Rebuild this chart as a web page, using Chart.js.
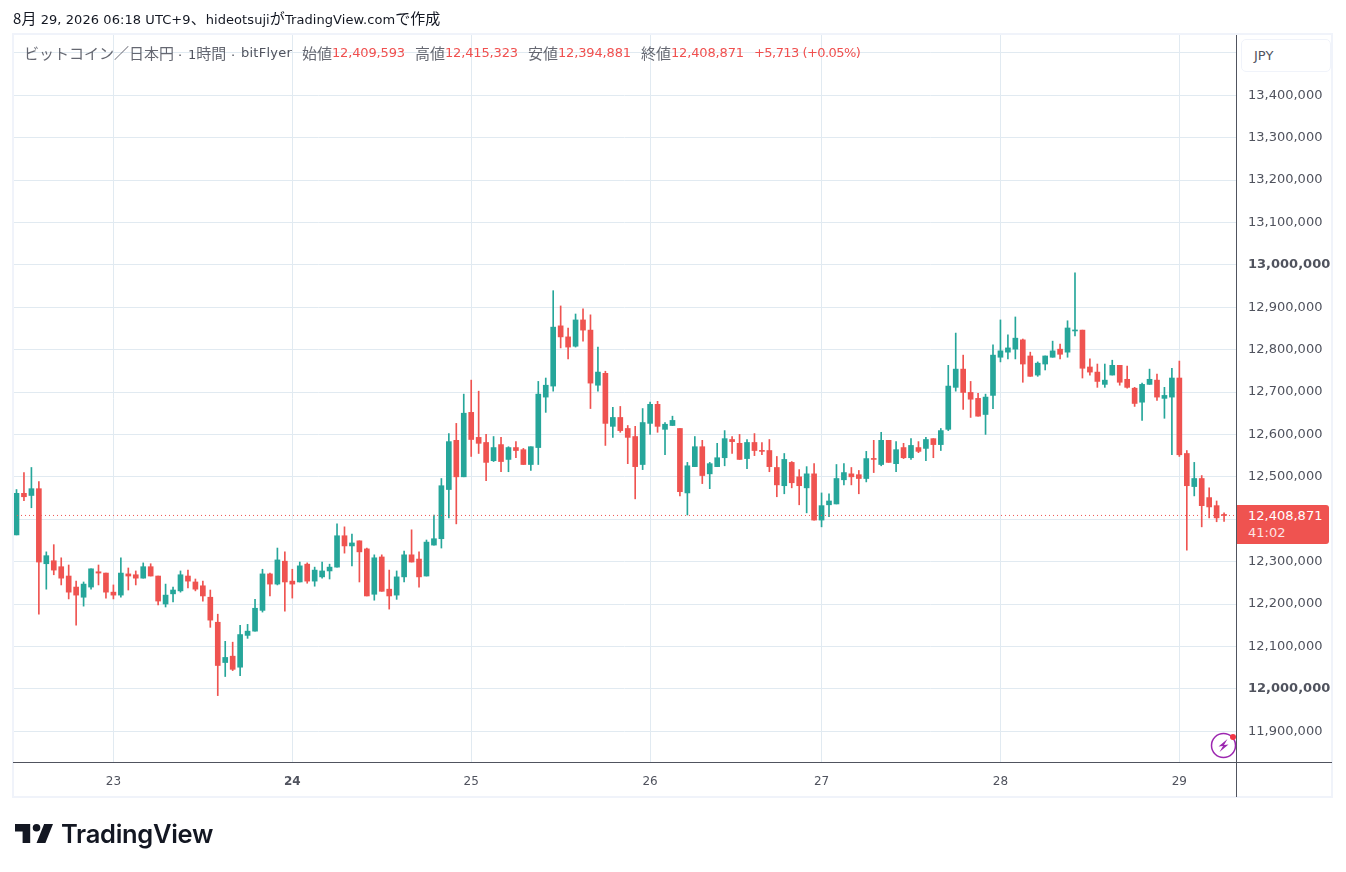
<!DOCTYPE html>
<html lang="ja"><head><meta charset="utf-8">
<script src="https://cdn.jsdelivr.net/npm/chart.js@4"></script>
<style>
html,body{margin:0;padding:0;background:#fff;overflow:hidden}
body{width:1346px;height:872px;position:relative;font-family:"DejaVu Sans","Noto Sans CJK JP",sans-serif}
canvas{position:absolute;left:0;top:0}
.t{position:absolute;white-space:nowrap;line-height:18px;font-size:13px}
.c{font-size:15px;font-family:"Noto Sans CJK JP",sans-serif}
.g{color:#50535e}.r{color:#f0504f;letter-spacing:-.15px}
.bx{position:absolute;background:#f0f3fa}
.ax{position:absolute;background:#50535e}
</style></head><body>
<canvas id="c" width="1346" height="872"></canvas>
<div class="bx" style="left:12px;top:33px;width:1321px;height:2px"></div>
<div class="bx" style="left:12px;top:33px;width:2px;height:765px"></div>
<div class="bx" style="left:1331px;top:33px;width:2px;height:765px"></div>
<div class="bx" style="left:12px;top:796px;width:1321px;height:2px"></div>
<div class="ax" style="left:13px;top:762px;width:1319px;height:1px"></div>
<div class="ax" style="left:1236px;top:35px;width:1px;height:762px"></div>
<div class="t" style="left:13px;top:9px;color:#131722;letter-spacing:.07px"><span class="c">8月</span> 29, 2026 06:18 UTC+9<span class="c">、</span>hideotsuji<span class="c">が</span>TradingView.com<span class="c">で作成</span></div>
<div class="t g c" style="left:24px;top:44px;opacity:.88">ビットコイン／日本円</div>
<div class="t g" style="left:178px;top:47px">·</div>
<div class="t g" style="left:188px;top:44px">1<span class="c" style="opacity:.88">時間</span></div>
<div class="t g" style="left:231px;top:47px">·</div>
<div class="t g" style="left:241px;top:44px;letter-spacing:.25px">bitFlyer</div>
<div class="t g c" style="left:302px;top:44px;opacity:.88">始値</div><div class="t r" style="left:332px;top:44px">12,409,593</div>
<div class="t g c" style="left:415px;top:44px;opacity:.88">高値</div><div class="t r" style="left:445px;top:44px">12,415,323</div>
<div class="t g c" style="left:528px;top:44px;opacity:.88">安値</div><div class="t r" style="left:558px;top:44px">12,394,881</div>
<div class="t g c" style="left:641px;top:44px;opacity:.88">終値</div><div class="t r" style="left:671px;top:44px">12,408,871</div>
<div class="t r" style="left:754px;top:44px;letter-spacing:-.55px">+5,713 (+0.05%)</div>
<div style="position:absolute;left:1241px;top:39px;width:88px;height:31px;border:1px solid #f0f3fa;border-radius:5px;background:#fff;color:#50535e;font-size:13px;line-height:31px;text-indent:12px">JPY</div>
<div style="position:absolute;left:1237px;top:505px;width:92px;height:39px;background:#ef5350;border-radius:0 3px 3px 0"></div>
<div class="t" style="left:1248px;top:506px;color:#fff;line-height:19px">12,408,871</div>
<div class="t" style="left:1248px;top:524px;color:#fde4e4;line-height:18px">41:02</div>
<svg style="position:absolute;left:1208px;top:730px" width="32" height="30" viewBox="0 0 32 30">
<circle cx="15.5" cy="15.5" r="12" fill="#fff" stroke="#9c27b0" stroke-width="1.5"/>
<path d="M19.5 9 10.5 16.5 15 16 11.5 22 20.5 14.5 16 15Z" fill="#9c27b0"/>
<circle cx="25" cy="7" r="3" fill="#f23645"/></svg>
<svg style="position:absolute;left:15px;top:824px" width="38" height="19" viewBox="0 6 30 15" preserveAspectRatio="none">
<path d="M12 6H0v6h6v9h6V6Zm12 15h-7l6-15h7l-6 15Zm-7-9a3 3 0 1 0 0-6 3 3 0 0 0 0 6Z" fill="#131722"/></svg>
<div style="position:absolute;left:61px;top:818px;font-family:Inter,sans-serif;font-weight:600;font-size:25.5px;line-height:32px;color:#131722;letter-spacing:-0.3px">TradingView</div>
<script>
// 1-hour BTC/JPY candles (thousand yen), 22 Aug 11:00 .. 29 Aug 06:00
const firstHourIndex = -13;
const opens = [12363,12461,12456,12472,12295,12302,12288,12266,12240,12216,12240,12276,12273,
12228,12221,12271,12269,12261,12288,12266,12200,12224,12231,12266,12252,12243,12216,12157,12062,12077,12051,12126,12136,12185,12271,12247,12301,12254,12252,12294,12254,12264,
12278,12287,12361,12337,12349,12330,12223,12311,12235,12221,12264,12316,12306,12266,12339,12354,12470,12586,12500,12652,12593,12581,12538,12576,12541,12569,12564,12529,12569,12688,
12714,12856,12830,12808,12870,12846,12716,12744,12619,12640,12614,12595,12529,12626,12671,12612,12621,12614,12462,12524,12571,12507,12524,12545,12588,12579,12543,12581,12562,12562,12522,
12479,12534,12500,12474,12507,12398,12434,12436,12493,12507,12505,12496,12543,12529,12586,12531,12569,12545,12569,12567,12590,12576,12612,12711,12754,12699,12685,12647,12692,12782,
12794,12801,12823,12785,12740,12766,12782,12801,12794,12844,12846,12759,12747,12718,12740,12763,12730,12709,12676,12718,12728,12685,12688,12733,12555,12477,12496,12451,12432,12409.593];
const highs = [12470,12510,12522,12489,12323,12340,12309,12292,12254,12252,12283,12292,12273,
12245,12309,12285,12278,12297,12295,12266,12247,12240,12278,12280,12259,12254,12233,12176,12112,12110,12150,12152,12211,12282,12273,12332,12323,12282,12299,12297,12287,12299,
12294,12389,12382,12365,12349,12332,12316,12316,12280,12278,12325,12375,12323,12351,12410,12496,12602,12626,12695,12728,12702,12600,12595,12593,12571,12583,12567,12571,12725,12733,
12939,12903,12851,12884,12896,12882,12806,12749,12664,12666,12621,12619,12661,12676,12678,12628,12643,12614,12534,12595,12586,12534,12579,12609,12595,12600,12588,12602,12581,12588,12548,
12555,12536,12517,12524,12531,12462,12460,12529,12531,12522,12515,12560,12586,12605,12586,12583,12579,12590,12583,12593,12590,12614,12763,12839,12787,12725,12697,12695,12811,12870,
12835,12877,12825,12794,12771,12785,12820,12813,12868,12981,12846,12778,12766,12766,12775,12763,12761,12711,12721,12754,12742,12711,12756,12773,12562,12534,12503,12474,12443,12415.323];
const lows = [12363,12444,12427,12176,12235,12269,12245,12212,12150,12195,12235,12245,12214,
12212,12216,12233,12245,12261,12266,12198,12193,12205,12228,12238,12231,12207,12145,11984,12029,12043,12031,12119,12136,12181,12219,12245,12183,12214,12252,12249,12242,12261,
12259,12287,12320,12290,12252,12219,12209,12230,12188,12211,12252,12299,12240,12266,12339,12332,12403,12389,12500,12548,12555,12491,12536,12512,12512,12545,12529,12515,12529,12652,
12702,12804,12778,12806,12820,12661,12702,12574,12593,12605,12531,12448,12517,12600,12605,12552,12621,12455,12410,12524,12484,12472,12524,12526,12555,12541,12519,12550,12552,12512,12453,
12460,12474,12434,12415,12398,12382,12406,12436,12481,12481,12460,12488,12510,12526,12534,12512,12543,12541,12557,12538,12545,12562,12609,12702,12659,12640,12643,12600,12661,12771,
12778,12778,12723,12737,12737,12752,12782,12778,12782,12832,12733,12740,12711,12711,12740,12716,12709,12666,12633,12718,12680,12638,12552,12548,12327,12455,12382,12403,12394,12394.881];
const closes = [12461,12453,12472,12299,12314,12280,12261,12228,12221,12247,12283,12273,12228,
12221,12273,12266,12261,12288,12266,12207,12221,12233,12269,12254,12235,12219,12162,12055,12074,12046,12128,12136,12190,12271,12247,12304,12252,12247,12290,12254,12280,12278,
12287,12361,12337,12344,12323,12219,12309,12230,12219,12264,12316,12299,12264,12346,12354,12479,12583,12500,12650,12588,12579,12534,12569,12536,12569,12562,12529,12571,12695,12716,
12853,12830,12806,12870,12846,12721,12747,12626,12640,12609,12593,12524,12628,12671,12619,12624,12633,12465,12526,12571,12503,12531,12545,12590,12583,12541,12581,12562,12560,12524,12481,
12541,12486,12479,12507,12398,12432,12443,12496,12510,12500,12496,12543,12541,12586,12534,12564,12545,12574,12560,12588,12576,12609,12714,12754,12699,12683,12643,12688,12787,12797,
12804,12827,12766,12737,12768,12785,12797,12789,12851,12846,12756,12747,12725,12728,12763,12723,12711,12673,12718,12730,12688,12692,12733,12552,12479,12496,12432,12429,12403.158,12408.871];
const priceTicks = [11900000,12000000,12100000,12200000,12300000,12400000,12500000,12600000,12700000,12800000,12900000,13000000,13100000,13200000,13300000,13400000,13500000];
const boldPrices = [12000000,13000000];
const dayIndex = [0,24,48,72,95,119,143];
const dayLabels = ['23','24','25','26','27','28','29'];
const boldDay = '24';
const lastPrice = 12408871;

const UP='#26a69a', DOWN='#ef5350';
const yen = v => v*1000;
const xs = opens.map((_,k)=>k+firstHourIndex);
const colors = opens.map((o,k)=> closes[k]>=o ? UP : DOWN);
const xMin=-13.47, xMax=150.6;
const TICK='#50535e', GRID='#e1eaf1';
new Chart(document.getElementById('c'),{
 type:'bar',
 data:{datasets:[
  {type:'bar',label:'wick',data:xs.map((x,k)=>({x,y:[yen(lows[k]),yen(highs[k])]})),backgroundColor:colors,barThickness:1,grouped:false,order:3,minBarLength:1},
  {type:'bar',label:'body',data:xs.map((x,k)=>({x,y:[yen(Math.min(opens[k],closes[k])),yen(Math.max(opens[k],closes[k]))]})),backgroundColor:colors,barThickness:5,grouped:false,order:2,minBarLength:1},
  {type:'line',label:'last',data:[{x:xMin,y:lastPrice},{x:xMax,y:lastPrice}],borderColor:DOWN,borderWidth:1,borderDash:[1,3],pointRadius:0,order:1}
 ]},
 options:{
  responsive:false,animation:false,devicePixelRatio:1,
  layout:{padding:{left:13,top:35,right:0,bottom:0}},
  plugins:{legend:{display:false},tooltip:{enabled:false},title:{display:false}},
  scales:{
   x:{type:'linear',min:xMin,max:xMax,offset:false,
     afterBuildTicks:s=>{s.ticks=dayIndex.map(v=>({value:v}));},
     afterFit:s=>{s.height=110;},
     grid:{color:GRID,lineWidth:1,drawTicks:false,offset:false},border:{display:false},
     ticks:{autoSkip:false,maxRotation:0,padding:13,color:TICK,
       callback:v=>dayLabels[dayIndex.indexOf(v)],
       font:c=>({family:'"DejaVu Sans"',size:12,weight:dayLabels[dayIndex.indexOf(c.tick&&c.tick.value)]===boldDay?'bold':'normal'})}},
   y:{type:'linear',position:'right',min:11827400,max:13542000,
     afterBuildTicks:s=>{s.ticks=priceTicks.map(v=>({value:v}));},
     afterFit:s=>{s.width=110;},
     grid:{color:GRID,lineWidth:1,drawTicks:false},border:{display:false},
     ticks:{autoSkip:false,padding:12,color:TICK,
       callback:v=>v>=13500000?'':v.toLocaleString('en-US'),
       font:c=>({family:'"DejaVu Sans"',size:13,weight:boldPrices.includes(c.tick&&c.tick.value)?'bold':'normal'})}}
  }
 }
});
</script></body></html>
